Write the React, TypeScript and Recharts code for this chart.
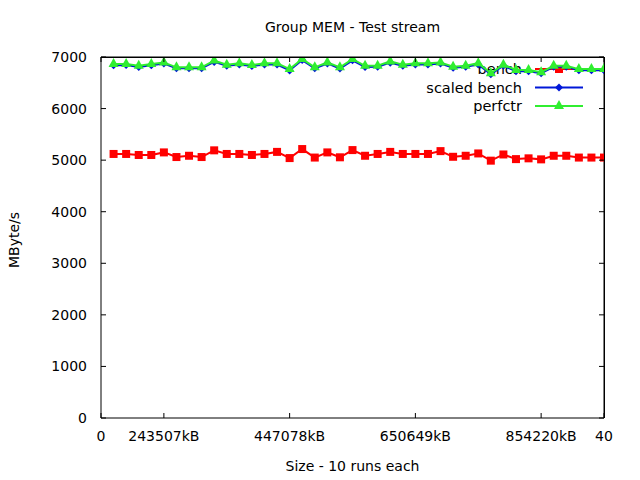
import React from "react";
import {
  LineChart,
  Line,
  XAxis,
  YAxis,
  Legend,
  ReferenceLine,
} from "recharts";

// run index 1..40
const runs = [
  1, 2, 3, 4, 5, 6, 7, 8, 9, 10, 11, 12, 13, 14, 15, 16, 17, 18, 19, 20,
  21, 22, 23, 24, 25, 26, 27, 28, 29, 30, 31, 32, 33, 34, 35, 36, 37, 38, 39, 40,
];

const bench = [
  5120, 5120, 5100, 5100, 5150, 5060, 5085, 5060, 5190, 5120,
  5120, 5100, 5120, 5160, 5040, 5215, 5050, 5150, 5055, 5195,
  5085, 5120, 5160, 5120, 5120, 5120, 5175, 5065, 5085, 5130,
  4990, 5110, 5020, 5035, 5015, 5085, 5085, 5050, 5050, 5050,
];

const scaledBench = [
  6840, 6845, 6805, 6840, 6875, 6780, 6780, 6780, 6905, 6830,
  6855, 6825, 6855, 6855, 6740, 6940, 6780, 6875, 6775, 6935,
  6805, 6810, 6890, 6830, 6855, 6855, 6875, 6790, 6810, 6855,
  6665, 6830, 6725, 6725, 6685, 6810, 6810, 6745, 6745, 6745,
];

const perfctr = [
  6865, 6865, 6830, 6865, 6895, 6800, 6800, 6800, 6930, 6850,
  6880, 6845, 6880, 6880, 6765, 6960, 6800, 6895, 6800, 6960,
  6830, 6830, 6915, 6850, 6880, 6880, 6895, 6810, 6830, 6880,
  6685, 6850, 6750, 6750, 6705, 6830, 6830, 6765, 6765, 6765,
];

const xTicks = [0, 5, 15, 25, 35, 40];
const xTickLabels = ["0", "243507kB", "447078kB", "650649kB", "854220kB", "40"];
const yTicks = [0, 1000, 2000, 3000, 4000, 5000, 6000, 7000];

const data = runs.map((run, i) => ({
  run,
  bench: bench[i],
  scaled: scaledBench[i],
  perfctr: perfctr[i],
}));

const RED = "#ff0000";
const BLUE = "#0018d8";
const GREEN = "#30ee30";
const FONT = "DejaVu Sans";

// plot box edges (from the chart margins below)
const PLOT_LEFT = 101;
const PLOT_TOP = 57;
const PLOT_RIGHT = 604;
const PLOT_BOTTOM = 418;
const TICK = 5;

function Square(props: any) {
  const { cx, cy } = props;
  if (cx == null || cy == null) return null;
  return <rect x={cx - 4} y={cy - 4} width={8} height={8} fill={RED} />;
}

function Diamond(props: any) {
  const { cx, cy } = props;
  if (cx == null || cy == null) return null;
  return (
    <polygon
      points={`${cx},${cy - 4} ${cx + 4},${cy} ${cx},${cy + 4} ${cx - 4},${cy}`}
      fill={BLUE}
    />
  );
}

function Triangle(props: any) {
  const { cx, cy } = props;
  if (cx == null || cy == null) return null;
  return (
    <polygon
      points={`${cx},${cy - 6} ${cx + 5},${cy + 3} ${cx - 5},${cy + 3}`}
      fill={GREEN}
    />
  );
}

// bottom tick label + mirrored tick on the top border
function XTick(props: any) {
  const { x, y, payload } = props;
  const i = xTicks.indexOf(payload.value);
  return (
    <g>
      <path d={`M${x},${PLOT_TOP}V${PLOT_TOP + TICK}`} stroke="#000" strokeWidth={1} fill="none" />
      <text x={x} y={y} dy="0.71em" textAnchor="middle" fontFamily={FONT} fontSize={14} fill="#000">
        {i >= 0 ? xTickLabels[i] : payload.value}
      </text>
    </g>
  );
}

// left tick label + mirrored tick on the right border
function YTick(props: any) {
  const { x, y, payload } = props;
  return (
    <g>
      <path d={`M${PLOT_RIGHT - TICK},${y}H${PLOT_RIGHT}`} stroke="#000" strokeWidth={1} fill="none" />
      <text x={x} y={y} dy="0.355em" textAnchor="end" fontFamily={FONT} fontSize={14} fill="#000">
        {payload.value}
      </text>
    </g>
  );
}

const legendRows = [
  { name: "bench", color: RED, Mark: Square },
  { name: "scaled bench", color: BLUE, Mark: Diamond },
  { name: "perfctr", color: GREEN, Mark: Triangle },
];

function KeyBox() {
  return (
    <svg width={260} height={60} style={{ display: "block" }}>
      {legendRows.map((r, i) => {
        const y = 11 + i * 18.5;
        return (
          <g key={r.name}>
            <text
              x={182}
              y={y}
              textAnchor="end"
              dominantBaseline="central"
              fontFamily={FONT}
              fontSize={14.5}
              fill="#000"
            >
              {r.name}
            </text>
            <line x1={195} x2={243} y1={y} y2={y} stroke={r.color} strokeWidth={2} />
            <r.Mark cx={219} cy={y} />
          </g>
        );
      })}
    </svg>
  );
}

function YTitle() {
  return (
    <text
      x={14}
      y={240}
      transform="rotate(-90 14 240)"
      textAnchor="middle"
      dominantBaseline="central"
      fontFamily={FONT}
      fontSize={14}
      fill="#000"
    >
      MByte/s
    </text>
  );
}

export default function App() {
  return (
    <div style={{ position: "absolute", left: 0, top: 0, width: 640, height: 480 }}>
      <div
        style={{
          position: "absolute",
          left: PLOT_LEFT,
          width: PLOT_RIGHT - PLOT_LEFT,
          top: 18,
          textAlign: "center",
          fontFamily: FONT,
          fontSize: 14,
          color: "#000",
          lineHeight: "18px",
        }}
      >
        Group MEM - Test stream
      </div>
      <LineChart
        width={640}
        height={480}
        data={data}
        margin={{ top: PLOT_TOP, right: 640 - PLOT_RIGHT, left: 0, bottom: 0 }}
      >
        <XAxis
          dataKey="run"
          type="number"
          domain={[0, 40]}
          ticks={xTicks}
          tick={<XTick />}
          tickSize={-TICK}
          tickMargin={18}
          height={480 - PLOT_BOTTOM}
          stroke="#000"
          interval={0}
          allowDataOverflow
          label={{
            value: "Size - 10 runs each",
            position: "insideBottom",
            offset: 9,
            fill: "#000",
            fontSize: 14,
            fontFamily: FONT,
          }}
        />
        <YAxis
          domain={[0, 7000]}
          ticks={yTicks}
          tick={<YTick />}
          tickSize={-TICK}
          tickMargin={19}
          width={PLOT_LEFT}
          stroke="#000"
          interval={0}
          allowDataOverflow
          label={(p: any) => <YTitle />}
        />
        {/* top and right edges of the border */}
        <ReferenceLine y={7000} stroke="#000" strokeWidth={1} ifOverflow="visible" />
        <ReferenceLine x={40} stroke="#000" strokeWidth={1} ifOverflow="visible" />
        <Legend
          layout="vertical"
          align="center"
          verticalAlign="middle"
          content={() => <KeyBox />}
          wrapperStyle={{ position: "absolute", left: 340, top: 58, width: 260, height: 60, zIndex: -1 }}
        />
        <Line
          dataKey="bench"
          name="bench"
          stroke={RED}
          strokeWidth={2}
          dot={<Square />}
          isAnimationActive={false}
        />
        <Line
          dataKey="scaled"
          name="scaled bench"
          stroke={BLUE}
          strokeWidth={2}
          dot={<Diamond />}
          isAnimationActive={false}
        />
        <Line
          dataKey="perfctr"
          name="perfctr"
          stroke={GREEN}
          strokeWidth={2}
          dot={<Triangle />}
          isAnimationActive={false}
        />
      </LineChart>
      <div
        style={{
          position: "absolute",
          left: PLOT_LEFT,
          top: PLOT_TOP,
          width: PLOT_RIGHT - PLOT_LEFT + 1,
          height: PLOT_BOTTOM - PLOT_TOP,
          borderTop: "1px solid #000",
          borderRight: "1px solid #000",
          boxSizing: "border-box",
          pointerEvents: "none",
        }}
      />
    </div>
  );
}
